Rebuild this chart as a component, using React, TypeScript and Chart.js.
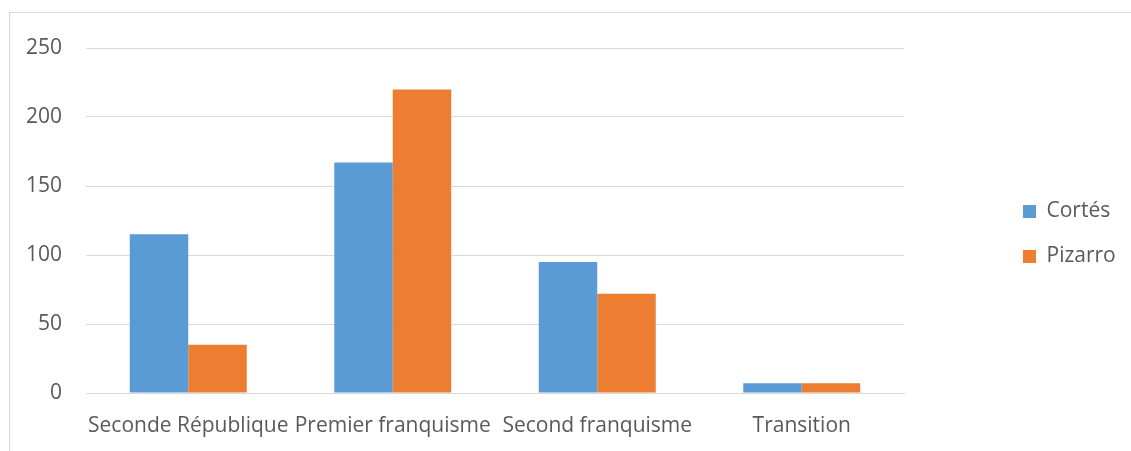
import React, { useEffect, useRef } from "react";
import { Chart, registerables } from "chart.js";

Chart.register(...registerables);

const categories = ["Seconde République", "Premier franquisme", "Second franquisme", "Transition"];
const cortes = [115, 167, 95, 7];
const pizarro = [35, 220, 72, 7];
const seriesNames = ["Cortés", "Pizarro"];
const yMin = 0;
const yMax = 250;
const yStep = 50;

const FONT = "'Open Sans', sans-serif";
const TEXT = "#595959";
const GRID = "#d9d9d9";

const legendMover = {
  id: "legendMover",
  beforeLayout(chart: any) {
    const lg = chart.legend;
    if (!lg || lg.__patched) return;
    const orig = lg.fit;
    lg.fit = function (this: any) {
      orig.call(this);
      this.width = 1131 - 904;
    };
    lg.__patched = true;
  },
  afterLayout(chart: any) {
    const lg = chart.legend;
    if (!lg) return;
    const w = lg.width;
    lg.left = 999;
    lg.right = 999 + w;
    lg.top = 177;
    lg.bottom = 451;
    lg.height = 451 - 177;
  },
};

export default function App() {
  const ref = useRef<HTMLCanvasElement | null>(null);
  useEffect(() => {
    if (!ref.current) return;
    const chart = new Chart(ref.current, {
      type: "bar",
      data: {
        labels: categories,
        datasets: [
          {
            label: seriesNames[0],
            data: cortes,
            backgroundColor: "#5B9BD5",
            borderWidth: 0,
            categoryPercentage: 0.572,
            barPercentage: 1,
          },
          {
            label: seriesNames[1],
            data: pizarro,
            backgroundColor: "#ED7D31",
            borderWidth: 0,
            categoryPercentage: 0.572,
            barPercentage: 1,
          },
        ],
      },
      options: {
        animation: false,
        responsive: false,
        maintainAspectRatio: false,
        layout: { padding: { left: 0, top: 48, right: 0, bottom: 0 } },
        plugins: {
          tooltip: { enabled: false },
          title: { display: false },
          legend: {
            display: true,
            position: "right",
            align: "start",
            onClick: () => {},
            labels: {
              boxWidth: 13,
              boxHeight: 13,
              padding: 24,
              color: TEXT,
              font: { family: FONT, size: 21 },
            },
          } as any,
        },
        scales: {
          x: {
            grid: { display: false, drawTicks: false },
            border: { display: true, color: GRID, width: 1 },
            ticks: {
              color: TEXT,
              font: { family: FONT, size: 21 },
              padding: 20,
              maxRotation: 0,
              autoSkip: false,
            },
            afterFit: (scale: any) => {
              scale.height = 451 - 393;
            },
          },
          y: {
            min: yMin,
            max: yMax,
            grid: { color: GRID, lineWidth: 1, drawTicks: false },
            border: { display: false },
            ticks: {
              stepSize: yStep,
              color: TEXT,
              font: { family: FONT, size: 21 },
              padding: 24,
            },
            afterFit: (scale: any) => {
              scale.width = 86;
            },
          },
        },
      },
      plugins: [legendMover],
    });
    return () => chart.destroy();
  }, []);

  return (
    <div style={{ position: "absolute", left: 0, top: 0, width: 1131, height: 451, background: "#fff", overflow: "hidden" }}>
      <div
        style={{
          position: "absolute",
          left: 9,
          top: 12,
          width: 1131 - 10,
          height: 451 - 13,
          borderLeft: "1px solid #d9d9d9",
          borderTop: "1px solid #d9d9d9",
        }}
      />
      <canvas ref={ref} width={1131} height={451} style={{ position: "absolute", left: 0, top: 0, width: 1131, height: 451 }} />
    </div>
  );
}
